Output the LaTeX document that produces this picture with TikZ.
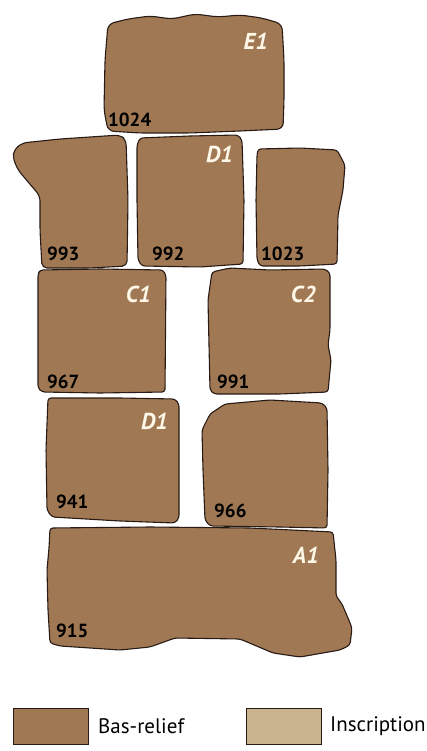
\documentclass[tikz,border=0pt]{standalone}
\usepackage{fontspec}
\setmainfont{PT Sans}
\usepackage{tikz}
\usetikzlibrary{positioning}

\definecolor{relief}{RGB}{160,121,84}
\definecolor{inscr}{RGB}{201,178,142}
\definecolor{cream}{RGB}{255,248,232}
\definecolor{edge}{RGB}{40,26,20}

\begin{document}
\begin{tikzpicture}[
  x=1pt, y=-1pt,
  stone/.style={draw=edge, line width=1.1pt, fill=relief, rounded corners=3pt, line join=round},
  tag/.style={font=\fontsize{23}{26}\selectfont\bfseries\itshape, text=cream, anchor=base east, inner sep=0pt},
  num/.style={font=\fontsize{19}{22}\selectfont\bfseries, text=black, anchor=base west, inner sep=0pt},
  keybox/.style={draw=edge, line width=1pt, minimum width=75pt, minimum height=36pt, inner sep=0pt},
  keytext/.style={font=\fontsize{21}{24}\selectfont, anchor=west, inner sep=0pt}
]
\useasboundingbox (0,0) rectangle (427,751);

% top row
\draw[stone, rounded corners=6pt] (108,24) -- (128,19) -- (150,16) -- (172,19) -- (195,14) -- (218,17)
  -- (240,15) -- (262,18) -- (282,24) -- (284,60) -- (284,100) -- (283,129)
  -- (240,131) -- (190,133) -- (140,133) -- (108,131) -- (104,110) -- (105,60) -- cycle;
\node[tag] (e1) at (268,50) {E1};
\node[num] (n1024) at (108,127) {1024};

% second row
\draw[stone, rounded corners=5pt] (14,150) -- (22,143) -- (60,139) -- (120,135) -- (126,140) -- (128,200) -- (127,266)
  -- (90,268) -- (42,268) -- (40,230) -- (40,196) -- (18,170) -- (13,158) -- cycle;
\draw[stone] (140,138) -- (190,136) -- (238,135) -- (242,140) -- (244,200) -- (243,264) -- (200,267)
  -- (142,266) -- (138,260) -- (137,200) -- (137,145) -- cycle;
\draw[stone] (258,149) -- (300,148) -- (337,150) -- (345,165) -- (343,190) -- (338,215) -- (337,264)
  -- (300,266) -- (260,266) -- (257,260) -- (256,200) -- (257,155) -- cycle;
\node[tag] (d1a) at (233,163) {D1};
\node[num] (n993) at (47,260) {993};
\node[num] (n992) at (152,260) {992};
\node[num] (n1023) at (261,260) {1023};

% third row
\draw[stone] (40,270) -- (100,269) -- (163,270) -- (166,275) -- (165,392) -- (100,393) -- (42,392)
  -- (38,388) -- (38,300) -- (38,274) -- cycle;
\draw[stone] (212,272) -- (230,268) -- (270,270) -- (325,269) -- (330,273) -- (330,330) -- (328,345)
  -- (331,360) -- (328,392) -- (280,394) -- (214,394) -- (210,390) -- (208,300) -- cycle;
\node[tag] (c1) at (151,302) {C1};
\node[tag] (c2) at (316,302) {C2};
\node[num] (n967) at (47,388) {967};
\node[num] (n991) at (217,388) {991};

% fourth row
\draw[stone] (48,398) -- (120,398) -- (175,399) -- (179,404) -- (179,518) -- (175,523) -- (120,521)
  -- (52,517) -- (47,510) -- (46,450) -- cycle;
\draw[stone] (225,404) -- (270,400) -- (322,403) -- (327,408) -- (328,470) -- (327,528) -- (280,527)
  -- (210,526) -- (205,520) -- (203,470) -- (202,430) -- (210,414) -- cycle;
\node[tag] (d1b) at (168,429) {D1};
\node[num] (n941) at (56,508) {941};
\node[num] (n966) at (214,517) {966};

% base block
\draw[stone] (50,528) -- (150,527) -- (250,528) -- (333,532) -- (336,560) -- (336,596) -- (342,604)
  -- (348,618) -- (352,628) -- (350,645) -- (340,650) -- (300,657) -- (273,653) -- (240,639)
  -- (175,638) -- (150,647) -- (120,650) -- (60,646) -- (50,643) -- (48,610) -- (47,570) -- (49,548) -- cycle;
\node[tag] (a1) at (319,563) {A1};
\node[num] (n915) at (56,637) {915};

% legend
\node[keybox, fill=relief, anchor=north west] (krelief) at (13,708) {};
\node[keytext, right=9pt of krelief] (lrelief) {Bas-relief};
\node[keybox, fill=inscr, anchor=north west] (kinscr) at (246,708) {};
\node[keytext, right=8pt of kinscr] (linscr) {Inscription};
\end{tikzpicture}
\end{document}
